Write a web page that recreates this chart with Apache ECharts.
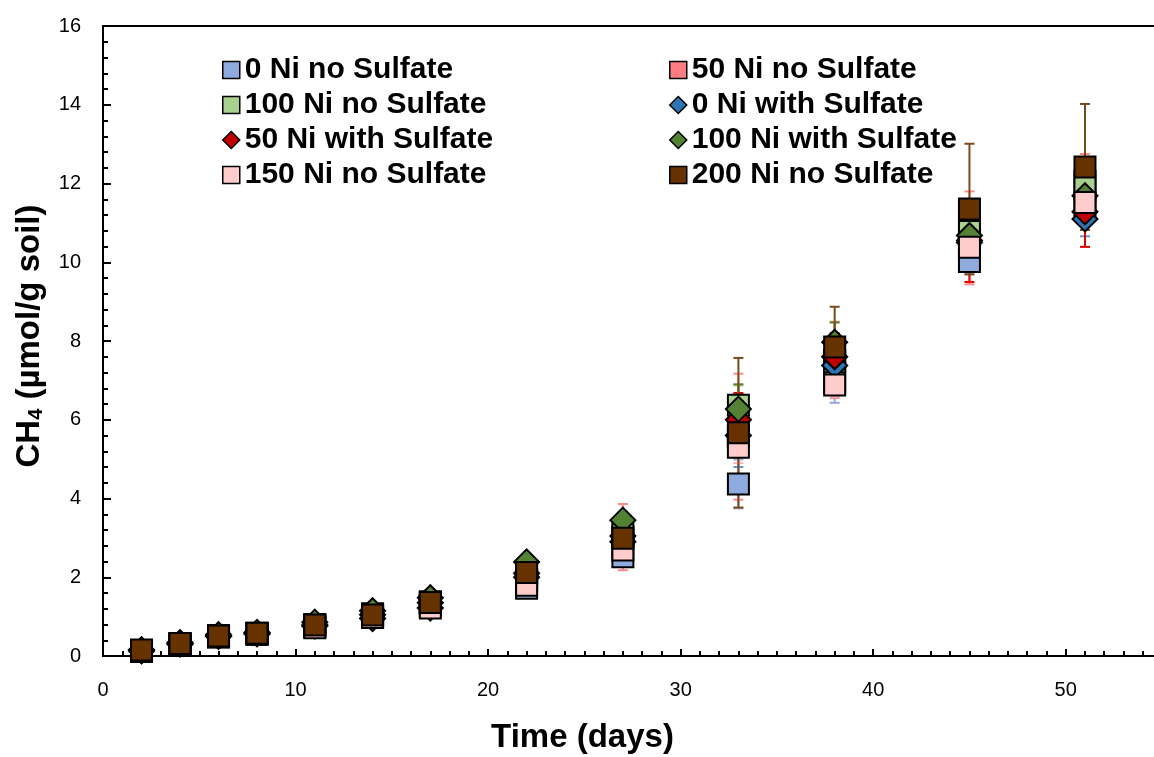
<!DOCTYPE html>
<html>
<head>
<meta charset="utf-8">
<script src="https://cdn.jsdelivr.net/npm/echarts@6/dist/echarts.min.js"></script>
<style>
  html, body { margin: 0; padding: 0; background: #ffffff; }
  #chart { width: 1154px; height: 757px; }
</style>
</head>
<body>
<div id="chart"></div>
<script>
// Sampling days
const days = [2, 4, 6, 8, 11, 14, 17, 22, 27, 33, 38, 45, 51];

// Cumulative CH4 (µmol/g soil), mean per treatment
const ni0NoSulfate    = [0.12, 0.30, 0.48, 0.55, 0.74, 1.00, 1.28, 1.72, 2.52, 4.37, 6.95, 10.02, 11.40];
const ni50NoSulfate   = [0.13, 0.31, 0.50, 0.57, 0.77, 1.03, 1.33, 1.95, 3.02, 5.57, 7.52, 10.62, 11.85];
const ni100NoSulfate  = [0.14, 0.32, 0.52, 0.58, 0.80, 1.07, 1.38, 2.05, 3.10, 6.37, 7.47, 10.78, 12.05];
const ni0Sulfate      = [0.13, 0.30, 0.50, 0.56, 0.76, 0.95, 1.22, 2.00, 2.90, 5.60, 7.38, 10.50, 11.10];
const ni50Sulfate     = [0.14, 0.32, 0.51, 0.58, 0.79, 1.05, 1.35, 2.10, 3.05, 6.00, 7.60, 10.55, 11.28];
const ni100Sulfate    = [0.16, 0.34, 0.54, 0.60, 0.86, 1.15, 1.48, 2.39, 3.45, 6.27, 7.97, 10.68, 11.69];
const ni150NoSulfate  = [0.12, 0.30, 0.49, 0.55, 0.72, 0.98, 1.22, 1.80, 2.69, 5.30, 6.88, 10.38, 11.52];
const ni200NoSulfate  = [0.15, 0.32, 0.51, 0.58, 0.79, 1.04, 1.36, 2.12, 2.99, 5.67, 7.85, 11.35, 12.42];

// Standard deviations
const ni0NoSulfateSd   = [0.02, 0.03, 0.04, 0.05, 0.06, 0.08, 0.10, 0.10, 0.15, 0.62, 0.52, 0.30, 0.50];
const ni50NoSulfateSd  = [0.02, 0.03, 0.04, 0.05, 0.06, 0.08, 0.10, 0.15, 0.84, 1.60, 0.97, 1.18, 0.90];
const ni100NoSulfateSd = [0.02, 0.03, 0.04, 0.05, 0.06, 0.08, 0.10, 0.12, 0.20, 0.50, 0.50, 0.40, 0.50];
const ni0SulfateSd     = [0.02, 0.03, 0.04, 0.05, 0.06, 0.08, 0.10, 0.12, 0.20, 0.80, 0.40, 0.40, 0.44];
const ni50SulfateSd    = [0.02, 0.03, 0.04, 0.05, 0.06, 0.08, 0.10, 0.12, 0.20, 0.68, 0.60, 1.05, 0.89];
const ni100SulfateSd   = [0.02, 0.03, 0.04, 0.05, 0.06, 0.08, 0.10, 0.12, 0.20, 0.63, 0.50, 0.30, 0.40];
const ni150NoSulfateSd = [0.02, 0.03, 0.04, 0.05, 0.06, 0.08, 0.10, 0.12, 0.20, 0.40, 0.30, 0.40, 0.40];
const ni200NoSulfateSd = [0.02, 0.03, 0.04, 0.05, 0.06, 0.08, 0.10, 0.12, 0.20, 1.90, 1.02, 1.66, 1.60];

const treatments = [
  { name: '0 Ni no Sulfate',     mean: ni0NoSulfate,   sd: ni0NoSulfateSd,   symbol: 'rect',    color: '#8FAADC', bar: '#8FAADC' },
  { name: '50 Ni no Sulfate',    mean: ni50NoSulfate,  sd: ni50NoSulfateSd,  symbol: 'rect',    color: '#FF7C80', bar: '#FF8A8A' },
  { name: '100 Ni no Sulfate',   mean: ni100NoSulfate, sd: ni100NoSulfateSd, symbol: 'rect',    color: '#A9D18E', bar: '#A9D18E' },
  { name: '0 Ni with Sulfate',   mean: ni0Sulfate,     sd: ni0SulfateSd,     symbol: 'diamond', color: '#2E75B6', bar: '#5B9BD5' },
  { name: '50 Ni with Sulfate',  mean: ni50Sulfate,    sd: ni50SulfateSd,    symbol: 'diamond', color: '#C00000', bar: '#E00000' },
  { name: '100 Ni with Sulfate', mean: ni100Sulfate,   sd: ni100SulfateSd,   symbol: 'diamond', color: '#548235', bar: '#548235' },
  { name: '150 Ni no Sulfate',   mean: ni150NoSulfate, sd: ni150NoSulfateSd, symbol: 'rect',    color: '#FFCCCC', bar: '#FFB3B3' },
  { name: '200 Ni no Sulfate',   mean: ni200NoSulfate, sd: ni200NoSulfateSd, symbol: 'rect',    color: '#663300', bar: '#7B4A1A' }
];

const FONT = '"Liberation Sans", Arial, sans-serif';

// Vertical error bar with caps
function renderErrorBar(params, api) {
  const x = api.value(0);
  const lo = api.coord([x, api.value(1)]);
  const hi = api.coord([x, api.value(2)]);
  const hw = 5;
  const style = { stroke: api.visual('color'), lineWidth: 2 };
  return {
    type: 'group',
    children: [
      { type: 'line', shape: { x1: lo[0], y1: lo[1], x2: hi[0], y2: hi[1] }, style },
      { type: 'line', shape: { x1: lo[0] - hw, y1: lo[1], x2: lo[0] + hw, y2: lo[1] }, style },
      { type: 'line', shape: { x1: hi[0] - hw, y1: hi[1], x2: hi[0] + hw, y2: hi[1] }, style }
    ]
  };
}

const series = [];
treatments.forEach(function (t) {
  series.push({
    type: 'custom',
    name: t.name + ' SD',
    renderItem: renderErrorBar,
    itemStyle: { color: t.bar },
    encode: { x: 0, y: [1, 2] },
    data: days.map(function (d, i) { return [d, t.mean[i] - t.sd[i], t.mean[i] + t.sd[i]]; }),
    z: 1,
    silent: true
  });
});
treatments.forEach(function (t, k) {
  series.push({
    type: 'scatter',
    name: t.name,
    symbol: t.symbol,
    symbolSize: t.symbol === 'rect' ? 21 : 25,
    itemStyle: { color: t.color, borderColor: '#000000', borderWidth: 2, opacity: 1 },
    data: days.map(function (d, i) { return [d, t.mean[i]]; }),
    z: 2 + k,
    clip: false
  });
});

const legendBase = {
  orient: 'vertical',
  top: 55,
  padding: 0,
  itemWidth: 17,
  itemHeight: 17,
  itemGap: 5,
  textStyle: { fontFamily: FONT, fontWeight: 'bold', fontSize: 30, color: '#000', lineHeight: 30 },
  itemStyle: { borderColor: '#000', borderWidth: 1.5 },
  selectedMode: false
};

const chart = echarts.init(document.getElementById('chart'), null, { renderer: 'canvas' });
chart.setOption({
  animation: false,
  backgroundColor: '#ffffff',
  grid: {
    left: 103, top: 26, right: -8, bottom: 101,
    outerBoundsMode: 'none',
    containLabel: false,
    show: true, borderColor: '#000', borderWidth: 2, backgroundColor: 'transparent'
  },
  legend: [
    Object.assign({}, legendBase, { left: 222, data: [treatments[0].name, treatments[2].name, treatments[4].name, treatments[6].name] }),
    Object.assign({}, legendBase, { left: 669, data: [treatments[1].name, treatments[3].name, treatments[5].name, treatments[7].name] })
  ],
  xAxis: {
    type: 'value',
    min: 0, max: 55, interval: 10,
    name: 'Time (days)',
    nameLocation: 'middle',
    nameGap: 65,
    nameTextStyle: { fontFamily: FONT, fontWeight: 'bold', fontSize: 33, color: '#000', padding: [0, 100, 0, 0] },
    axisLine: { show: true, onZero: false, lineStyle: { color: '#000', width: 2 } },
    axisTick: { show: true, inside: true, length: 7, lineStyle: { color: '#000', width: 2 } },
    minorTick: { show: true, splitNumber: 10, length: 5, lineStyle: { color: '#000', width: 2 } },
    axisLabel: { fontFamily: FONT, fontSize: 20, color: '#000', margin: 24, showMaxLabel: false },
    splitLine: { show: false },
    minorSplitLine: { show: false }
  },
  yAxis: {
    type: 'value',
    min: 0, max: 16, interval: 2,
    name: '{b|CH}{s|4}{b| (µmol/g soil)}',
    nameLocation: 'middle',
    nameGap: 57,
    nameTextStyle: {
      padding: [0, 0, 0, 10],
      rich: {
        b: { fontFamily: FONT, fontWeight: 'bold', fontSize: 33, color: '#000' },
        s: { fontFamily: FONT, fontWeight: 'bold', fontSize: 20, color: '#000', verticalAlign: 'bottom', padding: [10, 0, 0, 0] }
      }
    },
    axisLine: { show: true, onZero: false, lineStyle: { color: '#000', width: 2 } },
    axisTick: { show: true, inside: true, length: 8, lineStyle: { color: '#000', width: 2 } },
    minorTick: { show: true, splitNumber: 5, length: 5, lineStyle: { color: '#000', width: 2 } },
    axisLabel: { fontFamily: FONT, fontSize: 20, color: '#000', margin: 22 },
    splitLine: { show: false },
    minorSplitLine: { show: false }
  },
  series: series
});
</script>
</body>
</html>
